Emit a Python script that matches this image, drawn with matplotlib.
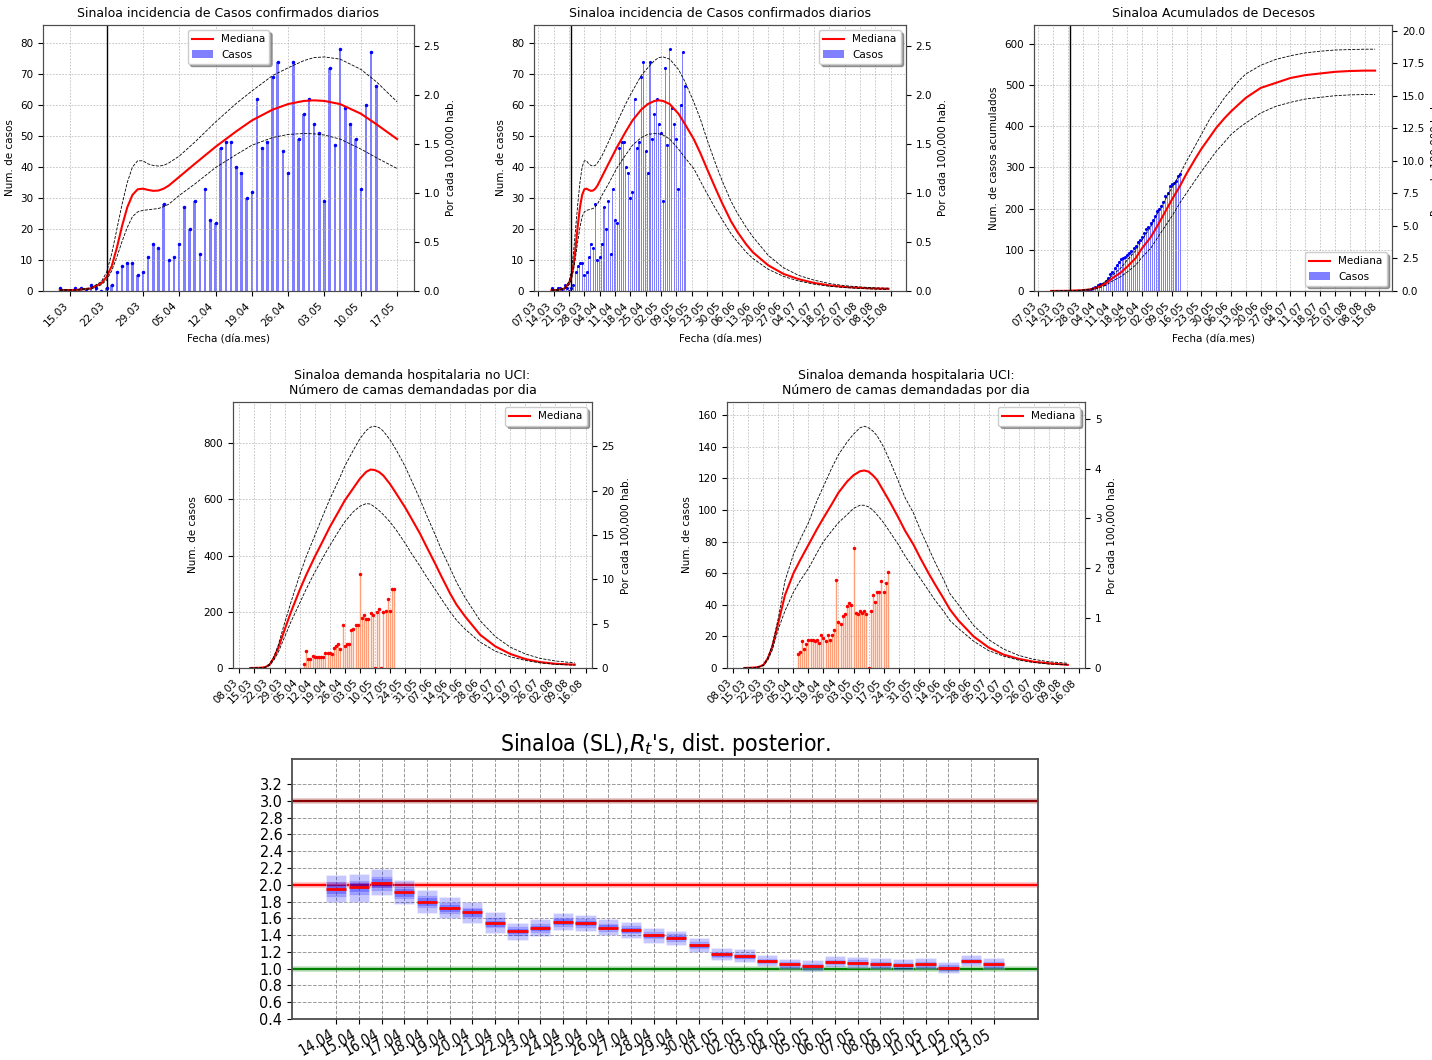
import matplotlib
matplotlib.use('Agg')
import matplotlib.pyplot as plt
import matplotlib.dates as mdates
import matplotlib.ticker as ticker
from matplotlib import font_manager
from matplotlib.font_manager import FontProperties
import pandas as pd

# Sinaloa: 100,000 hab. factor
POP100K = 31.56

# ---------- observed data ----------
obs_start, obs_end = '2020-03-13', '2020-05-13'
casos = [1, 0, 0, 1, 1, 0, 2, 1, 0, 1,
         2, 6, 8, 9, 9, 5, 6, 11, 15,
         14, 28, 10, 11, 15, 27, 20, 29, 12, 33, 23, 22, 46, 48, 48, 40, 38, 30, 32, 62,
         46, 48, 69, 74, 45, 38, 74, 49, 57, 62,
         54, 51, 29, 72, 47, 78, 59, 54, 49, 33, 60, 77, 66]
decesos_acum = [0, 0, 0, 0, 0, 0, 0, 0, 0, 0, 0, 0, 0, 1, 1, 1, 2, 2, 3,
                4, 7, 10, 15, 17, 17, 18, 24, 31, 40, 47, 56, 64, 71, 77, 80, 83, 88, 93, 98,
                105, 110, 118, 124, 132, 140, 150, 156, 166, 173,
                182, 195, 199, 207, 215, 230, 239, 255, 259, 262, 266, 278, 285]

hosp_start, hosp_end = '2020-04-07', '2020-05-19'
hosp_no_uci = [14, 62, 33, 32, 41, 39, 38, 38, 38, 39, 52, 52, 52, 51, 72, 79, 86, 69, 154, 79,
               84, 86, 135, 140, 154, 153, 334, 179, 189, 175, 173, 194, 188, 0, 201, 209, 0,
               201, 203, 247, 203, 282, 281]
hosp_uci = [9, 10, 17, 12, 15, 18, 18, 18, 17, 18, 16, 21, 19, 17, 21, 18, 21, 24, 56, 29,
            28, 33, 34, 39, 41, 40, 76, 35, 34, 36, 35, 36, 34, 0, 36, 46, 42, 48, 48, 55,
            48, 54, 61]

# ---------- model curves (incidence) ----------
inc_dates = ['03-13', '03-16', '03-19', '03-21', '03-22', '03-23', '03-24', '03-25', '03-26',
             '03-27', '03-28', '03-29', '03-30', '03-31', '04-01', '04-02', '04-03', '04-05',
             '04-08', '04-12', '04-16', '04-19', '04-23', '04-26', '04-29', '05-01', '05-03',
             '05-06', '05-10', '05-13', '05-17', '05-20', '05-23', '05-27', '05-30', '06-03',
             '06-06', '06-10', '06-13', '06-20', '06-27', '07-04', '07-11', '07-18', '07-25',
             '08-01', '08-08', '08-14']
inc_med = [0.3, 0.3, 0.8, 2.5, 4.5, 8, 14, 21, 27, 31, 32.8, 33, 32.6, 32.3, 32.4, 33, 34, 36.8,
           41, 46.5, 51.5, 55, 58.5, 60.3, 61.3, 61.5, 61.3, 60.3, 57.2, 53.8, 49, 44.5, 39.5,
           33, 28.3, 22.5, 19, 15, 12.5, 8.3, 5.5, 3.8, 2.6, 1.8, 1.3, 1.0, 0.8, 0.7]
inc_up = [0.4, 0.4, 1.0, 3, 6, 12, 20, 28, 35, 40, 42, 42, 41, 40.5, 40.3, 40.5, 41.3, 43.5,
          48, 54.5, 60.5, 64.5, 69.5, 72, 74.3, 75.3, 75.5, 74.8, 71.5, 67.5, 61, 55.5, 49,
          41, 35.5, 29, 25, 20.5, 17.5, 11.5, 7.5, 5, 3.5, 2.4, 1.7, 1.3, 1.0, 0.9]
inc_lo = [0.2, 0.2, 0.6, 2, 3.5, 6.5, 11, 16, 20.5, 24, 25.5, 26, 26.2, 26.4, 26.6, 27.2, 28,
          30.8, 34.5, 39.8, 44, 47, 49.5, 50.5, 50.8, 50.7, 50.3, 49, 45.8, 43, 39.5, 35.5,
          31.5, 26.5, 23, 18.5, 15.8, 12.5, 10.5, 7, 4.7, 3.2, 2.2, 1.5, 1.1, 0.8, 0.6, 0.5]

# ---------- model curves (cumulative deaths) ----------
dec_dates = ['03-13', '03-20', '03-27', '04-01', '04-04', '04-08', '04-11', '04-15', '04-18',
             '04-22', '04-25', '04-29', '05-02', '05-06', '05-09', '05-13', '05-16', '05-20',
             '05-23', '05-27', '05-30', '06-03', '06-06', '06-10', '06-13', '06-20', '06-27',
             '07-04', '07-11', '07-18', '07-25', '08-01', '08-08', '08-13']
dec_med = [0, 0.3, 1.5, 4, 9, 19, 31, 45, 59, 80, 104, 130, 156, 193, 221, 256, 285, 320, 345,
           374, 396, 420, 436, 455, 469, 493, 505, 517, 524, 528, 532, 534, 535, 535]
dec_up = [0, 0.4, 2, 5, 10, 24, 38, 56, 75, 98, 124, 155, 186, 222, 250, 285, 315, 352, 380,
          418, 440, 470, 488, 512, 527, 548, 562, 571, 578, 582, 585, 586, 587, 587]
dec_lo = [0, 0.2, 1, 3, 6, 14, 24, 35, 46, 63, 82, 103, 127, 158, 181, 215, 238, 268, 290,
          318, 339, 362, 380, 397, 408, 432, 448, 458, 466, 470, 474, 476, 477, 477]

# ---------- model curves (hospital demand) ----------
hos_dates = ['03-13', '03-18', '03-20', '03-22', '03-24', '03-26', '03-29', '04-01', '04-05',
             '04-08', '04-12', '04-16', '04-19', '04-23', '04-26', '04-30', '05-03', '05-06',
             '05-08', '05-10', '05-12', '05-14', '05-17', '05-20', '05-24', '05-27', '05-31',
             '06-03', '06-07', '06-10', '06-14', '06-17', '06-21', '06-28', '07-05', '07-12',
             '07-19', '07-26', '08-02', '08-11']
nouci_med = [0, 1, 3, 12, 35, 70, 136, 200, 277, 330, 395, 455, 501, 555, 596, 640, 673, 698,
             706, 704, 697, 684, 655, 620, 572, 532, 478, 432, 372, 325, 265, 225, 183, 118,
             77, 50, 32, 21, 15, 12]
nouci_up = [0, 1, 3, 14, 40, 80, 160, 235, 330, 395, 470, 545, 600, 665, 718, 775, 815, 845,
            857, 860, 855, 842, 812, 775, 718, 668, 600, 545, 475, 420, 355, 305, 250, 168,
            112, 74, 50, 34, 25, 18]
nouci_lo = [0, 1, 2, 9, 28, 55, 110, 165, 230, 280, 340, 395, 435, 485, 520, 556, 575, 585,
            583, 572, 560, 545, 520, 490, 445, 408, 362, 325, 280, 245, 200, 170, 138, 92,
            60, 40, 27, 18, 13, 10]
uci_med = [0, 0.3, 0.8, 2, 6, 13, 29, 46, 60, 68, 78, 88, 95, 104, 111, 118, 122, 124.5, 125,
           124.3, 122, 119, 112, 105, 95, 87, 78, 70, 60, 53, 44, 37, 30, 20, 13, 8.5, 5.8,
           4, 3, 2]
uci_up = [0, 0.3, 0.8, 2, 6.5, 14, 32, 55, 72, 81, 92, 106, 115, 127, 135, 143, 148, 152, 153,
          152, 150, 147, 140, 131, 118, 108, 98, 88, 76, 67, 56, 47, 40, 27, 18, 12, 8, 5.5,
          4, 3]
uci_lo = [0, 0.3, 0.7, 1.5, 5, 11, 25, 36, 48, 55, 63, 73, 80, 87, 92, 97, 101, 103, 103, 102,
          100, 97, 92, 86, 78, 71, 63, 57, 49, 43, 36, 30, 25, 17, 11, 7.5, 5, 3.5, 2.5, 2]

# ---------- Rt posterior ----------
rt_labels = ['14.04', '15.04', '16.04', '17.04', '18.04', '19.04', '20.04', '21.04', '22.04',
             '23.04', '24.04', '25.04', '26.04', '27.04', '28.04', '29.04', '30.04', '01.05',
             '02.05', '03.05', '04.05', '05.05', '06.05', '07.05', '08.05', '09.05', '10.05',
             '11.05', '12.05', '13.05']
rt_med = [1.95, 1.97, 2.02, 1.91, 1.80, 1.72, 1.67, 1.54, 1.45, 1.48, 1.56, 1.54, 1.49, 1.46,
          1.40, 1.37, 1.28, 1.17, 1.15, 1.09, 1.05, 1.03, 1.08, 1.07, 1.05, 1.04, 1.05, 1.01,
          1.09, 1.05]
rt_q05 = [1.80, 1.80, 1.88, 1.77, 1.66, 1.60, 1.55, 1.43, 1.34, 1.39, 1.46, 1.45, 1.40, 1.37,
          1.31, 1.28, 1.20, 1.10, 1.08, 1.03, 0.99, 0.97, 1.02, 1.01, 0.99, 0.98, 0.99, 0.95,
          1.03, 0.99]
rt_q95 = [2.12, 2.13, 2.19, 2.06, 1.94, 1.85, 1.80, 1.67, 1.55, 1.59, 1.66, 1.64, 1.59, 1.56,
          1.49, 1.45, 1.37, 1.25, 1.23, 1.16, 1.12, 1.10, 1.15, 1.14, 1.13, 1.11, 1.13, 1.08,
          1.16, 1.13]
rt_q10 = [1.86, 1.88, 1.93, 1.83, 1.72, 1.65, 1.60, 1.48, 1.39, 1.43, 1.50, 1.49, 1.44, 1.41,
          1.35, 1.32, 1.23, 1.13, 1.11, 1.05, 1.01, 0.99, 1.04, 1.03, 1.01, 1.00, 1.01, 0.97,
          1.05, 1.01]
rt_q90 = [2.04, 2.06, 2.11, 1.99, 1.88, 1.79, 1.74, 1.61, 1.51, 1.54, 1.62, 1.60, 1.55, 1.52,
          1.45, 1.42, 1.33, 1.21, 1.19, 1.13, 1.09, 1.07, 1.12, 1.11, 1.09, 1.08, 1.09, 1.05,
          1.13, 1.09]
rt_q25 = [1.89, 1.91, 1.96, 1.86, 1.75, 1.67, 1.62, 1.50, 1.41, 1.45, 1.52, 1.51, 1.46, 1.43,
          1.37, 1.34, 1.25, 1.14, 1.12, 1.07, 1.03, 1.01, 1.06, 1.05, 1.03, 1.02, 1.03, 0.99,
          1.07, 1.03]
rt_q75 = [2.01, 2.03, 2.08, 1.96, 1.85, 1.77, 1.72, 1.58, 1.49, 1.52, 1.60, 1.58, 1.53, 1.50,
          1.43, 1.40, 1.31, 1.20, 1.18, 1.11, 1.07, 1.05, 1.10, 1.09, 1.07, 1.06, 1.07, 1.03,
          1.11, 1.07]


def to_dates(md):
    return pd.to_datetime(['2020-' + s for s in md])


plt.rcParams['font.size'] = 7.5
plt.rcParams['axes.titlesize'] = 9
plt.rcParams['legend.fontsize'] = 7.5
plt.rcParams['axes.edgecolor'] = '0.3'

GRID = dict(ls=(0, (2.5, 2)), lw=0.5, color='0.7')

fig = plt.figure(figsize=(14.32, 10.60), dpi=100)


def date_axis(ax, first, last, xlim):
    ax.set_xticks(pd.date_range(first, last, freq='7D'))
    ax.xaxis.set_major_formatter(mdates.DateFormatter('%d.%m'))
    plt.setp(ax.get_xticklabels(), rotation=45, ha='right', rotation_mode='default')
    ax.set_xlim(pd.Timestamp(xlim[0]), pd.Timestamp(xlim[1]))


def right_axis(ax, step):
    ax2 = ax.twinx()
    lo, hi = ax.get_ylim()
    ax2.set_ylim(lo / POP100K, hi / POP100K)
    ax2.yaxis.set_major_locator(ticker.MultipleLocator(step))
    ax2.set_ylabel('Por cada 100,000 hab.')
    return ax2


def curves(ax, d, med, up, lo):
    line, = ax.plot(d, med, color='red', lw=1.5, label='Mediana')
    ax.plot(d, up, color='k', ls='--', lw=0.6)
    ax.plot(d, lo, color='k', ls='--', lw=0.6)
    return line


obs_d = pd.date_range(obs_start, obs_end)
hosp_d = pd.date_range(hosp_start, hosp_end)
inc_d = to_dates(inc_dates)
dec_d = to_dates(dec_dates)
hos_d = to_dates(hos_dates)
cut = pd.Timestamp('2020-05-17')
first_case = pd.Timestamp('2020-03-22')
title_inc = 'Sinaloa incidencia de Casos confirmados diarios'

# ---- panel 1 ----
ax = fig.add_axes([0.0300, 0.7255, 0.2591, 0.2509])
keep = inc_d <= cut
bars = ax.bar(obs_d, casos, width=0.5, color='blue', alpha=0.5, lw=0, label='Casos')
ax.plot(obs_d, casos, '.', color='blue', ms=3)
line = curves(ax, inc_d[keep], [v for v, k in zip(inc_med, keep) if k],
              [v for v, k in zip(inc_up, keep) if k], [v for v, k in zip(inc_lo, keep) if k])
ax.axvline(first_case, color='k', lw=1)
ax.set_ylim(0, 1.1 * max(max(casos), max(inc_up)))
ax.yaxis.set_major_locator(ticker.MultipleLocator(10))
date_axis(ax, '2020-03-15', '2020-05-17', ('2020-03-09 18:00', '2020-05-20 06:00'))
ax.grid(True, **GRID)
ax.set_title(title_inc)
ax.set_ylabel('Num. de casos')
ax.set_xlabel('Fecha (día.mes)')
ax.legend(handles=[line, bars], loc='upper center', shadow=True, framealpha=1)
right_axis(ax, 0.5)

# ---- panel 2 ----
ax = fig.add_axes([0.3729, 0.7255, 0.2598, 0.2509])
bars = ax.bar(obs_d, casos, width=0.5, color='blue', alpha=0.5, lw=0, label='Casos')
ax.plot(obs_d, casos, '.', color='blue', ms=2.5)
line = curves(ax, inc_d, inc_med, inc_up, inc_lo)
ax.axvline(first_case, color='k', lw=1)
ax.set_ylim(0, 1.1 * max(max(casos), max(inc_up)))
ax.yaxis.set_major_locator(ticker.MultipleLocator(10))
date_axis(ax, '2020-03-07', '2020-08-15', ('2020-03-05', '2020-08-22'))
ax.grid(True, **GRID)
ax.set_title(title_inc)
ax.set_ylabel('Num. de casos')
ax.set_xlabel('Fecha (día.mes)')
ax.legend(handles=[line, bars], loc='upper right', shadow=True, framealpha=1)
right_axis(ax, 0.5)

# ---- panel 3 ----
ax = fig.add_axes([0.7221, 0.7255, 0.2500, 0.2509])
bars = ax.bar(obs_d, decesos_acum, width=0.5, color='blue', alpha=0.5, lw=0, label='Casos')
ax.plot(obs_d, decesos_acum, '.', color='blue', ms=2.5)
line = curves(ax, dec_d, dec_med, dec_up, dec_lo)
ax.axvline(first_case, color='k', lw=1)
ax.set_ylim(0, 1.1 * max(max(decesos_acum), max(dec_up)))
ax.yaxis.set_major_locator(ticker.MultipleLocator(100))
date_axis(ax, '2020-03-07', '2020-08-15', ('2020-03-05', '2020-08-21'))
ax.grid(True, **GRID)
ax.set_title('Sinaloa Acumulados de Decesos')
ax.set_ylabel('Num. de casos acumulados')
ax.set_xlabel('Fecha (día.mes)')
ax.legend(handles=[line, bars], loc='lower right', shadow=True, framealpha=1)
right_axis(ax, 2.5)

# ---- panels 4 and 5 ----
hosp_panels = [
    ([0.1627, 0.3698, 0.2507, 0.2509], hosp_no_uci, nouci_med, nouci_up, nouci_lo, 200, 5,
     'Sinaloa demanda hospitalaria no UCI:\nNúmero de camas demandadas por dia'),
    ([0.5077, 0.3698, 0.2500, 0.2509], hosp_uci, uci_med, uci_up, uci_lo, 20, 1,
     'Sinaloa demanda hospitalaria UCI:\nNúmero de camas demandadas por dia'),
]
for rect, obs, med, up, lo, step, rstep, title in hosp_panels:
    ax = fig.add_axes(rect)
    line = curves(ax, hos_d, med, up, lo)
    ax.vlines(hosp_d, 0, obs, color='lightsalmon', lw=1)
    ax.plot(hosp_d, obs, '.', color='red', ms=3)
    ax.set_ylim(0, 1.1 * max(max(obs), max(up)))
    ax.yaxis.set_major_locator(ticker.MultipleLocator(step))
    date_axis(ax, '2020-03-08', '2020-08-16', ('2020-03-05', '2020-08-19'))
    ax.grid(True, **GRID)
    ax.set_title(title)
    ax.set_ylabel('Num. de casos')
    ax.legend(handles=[line], loc='upper right', shadow=True, framealpha=1)
    right_axis(ax, rstep)

# ---- Rt panel ----
# a condensed face looks closest to the squeezed original; fall back to DejaVu
cond = None
for f in font_manager.fontManager.ttflist:
    low = f.fname.lower()
    if ('condensed' in low or 'narrow' in low) and 'bold' not in low and 'oblique' not in low \
            and 'italic' not in low:
        cond = f.fname
        break


def rt_font(size):
    if cond:
        return FontProperties(fname=cond, size=size)
    return FontProperties(family='DejaVu Sans', size=size * 0.8)


ax = fig.add_axes([0.2039, 0.0387, 0.5209, 0.2453])
xs = list(range(len(rt_labels)))
for lo_q, hi_q in [(rt_q05, rt_q95), (rt_q10, rt_q90), (rt_q25, rt_q75)]:
    ax.bar(xs, [h - l for l, h in zip(lo_q, hi_q)], bottom=lo_q, width=0.9,
           color='blue', alpha=0.22, lw=0.8, edgecolor=(1, 1, 1, 0.5), zorder=3)
ax.hlines(rt_med, [x - 0.45 for x in xs], [x + 0.45 for x in xs], color='red', lw=2, zorder=4)
for y, c in [(3.0, 'darkred'), (2.0, 'red'), (1.0, 'green')]:
    ax.axhline(y, color=c, lw=4, alpha=0.25, zorder=2)
    ax.axhline(y, color=c, lw=1.6, zorder=2)
ax.set_xlim(-1.95, len(rt_labels) + 0.95)
ax.set_ylim(0.4, 3.5)
ax.set_yticks([0.4 + 0.2 * i for i in range(15)])
ax.yaxis.set_major_formatter(ticker.FormatStrFormatter('%.1f'))
ax.set_xticks(xs)
ax.set_xticklabels(rt_labels, rotation=30, ha='right')
for lab in ax.get_yticklabels():
    lab.set_fontproperties(rt_font(11.5))
for lab in ax.get_xticklabels():
    lab.set_fontproperties(rt_font(10.5))
ax.tick_params(axis='x', pad=2)
ax.grid(True, ls='--', lw=0.7, color='0.6', zorder=0)
ax.set_axisbelow(True)
for s in ax.spines.values():
    s.set_linewidth(1.3)
ax.set_title("Sinaloa (SL),$R_t$'s, dist. posterior.", fontproperties=rt_font(16.5), pad=6)

fig.savefig('out.png', dpi=100)
